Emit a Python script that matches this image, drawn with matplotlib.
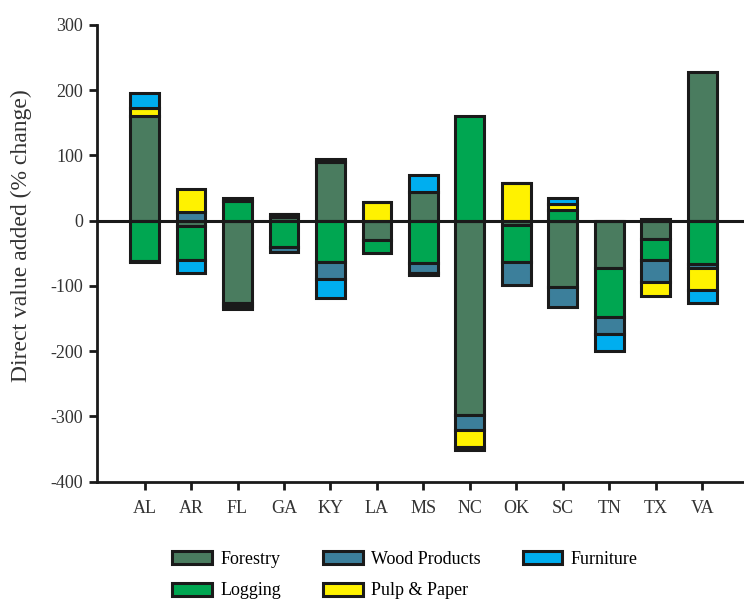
"""Direct value added by sector and state, stacked positive/negative bars."""

import matplotlib.pyplot as plt
import numpy as np

states = ["AL", "AR", "FL", "GA", "KY", "LA", "MS", "NC", "OK", "SC", "TN", "TX", "VA"]
sectors = ["Forestry", "Logging", "Wood Products", "Pulp & Paper", "Furniture"]

forestry = [160, -8, -126, 6, 90, -29, 44, -297, -6, -101, -73, -28, 227]
logging = [-62, -52, 30, -40, -63, -20, -65, 161, -57, 17, -74, -33, -67]
wood_products = [-2, 14, -4, -8, -27, 0, -15, -23, -35, -31, -26, -33, -6]
pulp_paper = [12, 35, 5, 4, 5, 29, -3, -26, 58, 8, 0, -21, -33]
furniture = [23, -20, -6, 0, -28, 0, 26, -5, 0, 9, -26, 3, -20]

colors = ["#4a7c5f", "#00a651", "#3c7f9b", "#fff200", "#00aeef"]

plt.rcParams["font.family"] = ["Liberation Serif", "DejaVu Serif"]
plt.rcParams["axes.unicode_minus"] = False

fig = plt.figure(figsize=(7.44, 6.06), dpi=100)
ax = fig.add_axes([0.130, 0.205, 0.870, 0.754])

x = np.arange(len(states))
pos_base = np.zeros(len(states))
neg_base = np.zeros(len(states))
handles = []
for name, vals, col in zip(sectors, [forestry, logging, wood_products, pulp_paper, furniture], colors):
    v = np.array(vals, dtype=float)
    bottom = np.where(v >= 0, pos_base, neg_base)
    h = ax.bar(x, v, 0.62, bottom=bottom, color=col, edgecolor="#1a1a1a", linewidth=2.2, label=name)
    handles.append(h)
    pos_base += np.where(v > 0, v, 0)
    neg_base += np.where(v < 0, v, 0)

ax.axhline(0, color="#1a1a1a", linewidth=2.2, zorder=5)

ax.set_xlim(-1.03, 12.9)
ax.set_ylim(-400, 300)
ax.set_yticks(range(-400, 301, 100))
ax.set_xticks(x)
ax.set_xticklabels(states)
ax.set_ylabel("Direct value added (% change)", fontsize=17, color="#333333")
ax.yaxis.set_label_coords(-0.100, 0.538)

for s in ["top", "right"]:
    ax.spines[s].set_visible(False)
for s in ["left", "bottom"]:
    ax.spines[s].set_linewidth(2)
    ax.spines[s].set_color("#1a1a1a")
ax.tick_params(axis="both", direction="out", length=6, width=2, color="#1a1a1a",
               labelsize=13, labelcolor="#333333", pad=4)
ax.tick_params(axis="x", pad=7)

fig.legend(handles=handles, labels=sectors, ncol=3, loc="lower left",
           bbox_to_anchor=(0.210, -0.016), frameon=False, fontsize=13,
           handlelength=2.2, handleheight=0.75, columnspacing=2.33, labelspacing=0.8,
           handletextpad=0.45)

fig.savefig("out.png", dpi=100)
